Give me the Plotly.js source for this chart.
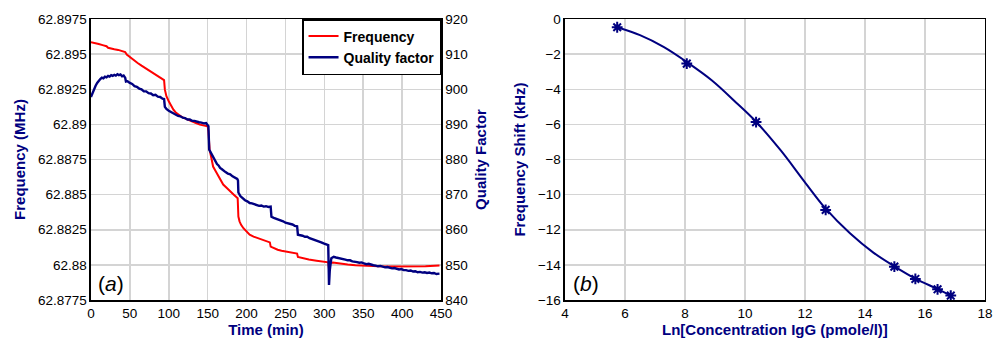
<!DOCTYPE html>
<html>
<head>
<meta charset="utf-8">
<script src="https://cdn.plot.ly/plotly-3.0.1.min.js"></script>
<style>html,body{margin:0;padding:0;background:#fff;}#chart{width:994px;height:340px;}</style>
</head>
<body>
<div id="chart"></div>
<script>
// ---- Panel (a): frequency (MHz) vs time (min)
const freqTime = [0,5,10,15,20,22,25,30,35,40,44,46,50,55,60,65,70,75,80,85,90,94,95,97,100,103,106,109,112,116,120,125,130,135,140,145,150,151,152.5,155,157,160,163,166,170,175,179,184,188.6,189.5,191,193,196,200,204,209,215,220,226,230,231,235,240,245,250,255,260,265,266,270,275,280,290,300,305,306,307,311,320,330,340,354,370,385,397,415,430,448];
const freqMHz = [62.89585,62.8958,62.89572,62.89564,62.89556,62.89545,62.8954,62.89535,62.8953,62.89523,62.89515,62.89497,62.89478,62.89458,62.89437,62.89418,62.894,62.89383,62.89365,62.89347,62.8933,62.89315,62.89247,62.892,62.89165,62.8913,62.89105,62.89085,62.89069,62.89055,62.89045,62.89035,62.89022,62.8901,62.88998,62.8899,62.88986,62.8895,62.8882,62.88755,62.887,62.8867,62.8864,62.88606,62.88572,62.88545,62.88522,62.88498,62.88475,62.88344,62.8831,62.88285,62.88261,62.88235,62.88215,62.88201,62.88188,62.88178,62.88166,62.8816,62.8813,62.88118,62.88108,62.881,62.88094,62.88088,62.88084,62.8808,62.88057,62.8805,62.88043,62.88038,62.8803,62.88022,62.88018,62.8797,62.88012,62.88016,62.88008,62.88003,62.87998,62.87993,62.8799,62.87988,62.87988,62.87989,62.87991,62.87995];

// ---- Panel (a): quality factor vs time (min)
const qTime = [0,2,4,6,8,10,12,14,16,18,20,22,24,26,28,30,32,34,36,38,40,42,44,45,47,50,53,56,59,62,65,68,71,74,77,80,83,86,89,92,94,95,97,100,103,106,109,112,115,118,121,124,127,130,133,136,139,142,145,148,150,151,152,154,156,158,160,162,164,166,168,170,173,176,179,182,185,188,189,189.5,192,195,198,201,204,207,210,213,216,219,222,225,228,231,232,235,238,241,244,247,250,253,256,259,262,265,266,269,272,275,278,281,284,287,290,293,296,299,302,305,306,307,309,312,315,318,321,324,327,330,333,336,339,342,345,348,351,354,357,360,363,366,369,372,375,378,381,384,387,390,393,396,399,402,405,408,411,414,417,420,423,426,429,432,435,438,441,444,448];
const qFactor = [897.8,899.0,900.3,901.0,901.8,902.5,902.9,903.3,903.1,903.6,903.4,903.8,903.6,904.0,903.8,904.1,903.9,904.3,904.0,904.2,903.7,903.9,903.3,902.2,902.3,901.8,901.5,900.9,900.7,900.2,900.0,899.4,899.4,898.9,898.8,898.3,898.4,897.9,897.8,897.3,897.2,895.0,894.4,893.9,893.5,893.1,892.9,892.4,892.3,891.9,891.8,891.4,891.4,891.0,891.0,890.7,890.6,890.5,890.3,890.4,889.8,889.5,882.8,882.0,880.9,880.4,879.3,878.7,878.3,877.6,877.3,876.9,876.4,876.0,875.8,875.2,874.9,874.5,874.0,870.6,869.6,868.9,868.4,868.1,867.6,867.5,867.2,867.0,866.8,866.9,866.6,866.7,866.5,866.6,863.7,863.4,863.2,862.8,862.6,862.4,862.0,861.9,861.6,861.5,861.1,861.0,858.6,858.5,858.3,858.0,858.0,857.6,857.4,857.1,856.9,856.6,856.4,856.1,855.9,855.6,844.3,848.5,851.9,852.3,852.1,852.0,851.9,851.6,851.5,851.3,851.3,851.0,851.0,850.8,850.6,850.7,850.4,850.2,850.3,850.0,849.9,849.8,849.6,849.7,849.4,849.3,849.4,849.2,849.0,849.1,848.9,848.7,848.8,848.5,848.5,848.3,848.4,848.1,848.2,847.9,848.0,847.8,847.9,847.7,847.8,847.6,847.7,847.4,847.5];

// ---- Panel (b): measured points and fitted curve
const lnConc = [5.74,8.06,10.37,12.69,14.98,15.68,16.42,16.86];
const freqShift = [-0.47,-2.54,-5.87,-10.87,-14.10,-14.80,-15.39,-15.75];
const fitX = [5.74,6.5,7.3,8.06,8.9,9.7,10.37,11.2,12.0,12.69,13.5,14.28,14.98,15.68,16.42,16.86];
const fitY = [-0.47,-0.92,-1.6,-2.45,-3.5,-4.75,-5.85,-7.5,-9.3,-10.8,-12.2,-13.3,-14.08,-14.78,-15.38,-15.75];

// ---- Tick labels
const freqTickVals = [62.8775,62.88,62.8825,62.885,62.8875,62.89,62.8925,62.895,62.8975];
const freqTickText = ['62.8775','62.88','62.8825','62.885','62.8875','62.89','62.8925','62.895','62.8975'];

const NAVY = '#000080';
const FONT = 'Liberation Sans, Arial, Helvetica, sans-serif';
const gridC = '#d4d4d4';

const traces = [
  {x: freqTime, y: freqMHz, type: 'scatter', mode: 'lines', name: 'Frequency',
   line: {color: '#ff0000', width: 2}, xaxis: 'x', yaxis: 'y'},
  {x: qTime, y: qFactor, type: 'scatter', mode: 'lines', name: 'Quality factor',
   line: {color: NAVY, width: 2.4}, xaxis: 'x', yaxis: 'y2'},
  {x: fitX, y: fitY, type: 'scatter', mode: 'lines', showlegend: false,
   line: {color: NAVY, width: 2, shape: 'spline', smoothing: 1}, xaxis: 'x2', yaxis: 'y3'},
  {x: lnConc, y: freqShift, type: 'scatter', mode: 'markers', showlegend: false,
   marker: {symbol: 'asterisk-open', size: 9, color: NAVY, line: {color: NAVY, width: 2}},
   xaxis: 'x2', yaxis: 'y3'}
];

const axBase = {
  showline: true, mirror: true, linecolor: '#000', linewidth: 1.5,
  showgrid: true, gridcolor: gridC, gridwidth: 1.5, zeroline: false, ticks: '',
  tickfont: {family: FONT, size: 13.5, color: '#000'}
};
const titleFont = {family: FONT, size: 15, color: NAVY, weight: 700};

const layout = {
  width: 994, height: 340,
  margin: {l: 0, r: 0, t: 19, b: 40},
  paper_bgcolor: '#fff', plot_bgcolor: '#fff',
  font: {family: FONT},
  showlegend: true,
  legend: {x: 0.4437, xanchor: 'right', y: 1, yanchor: 'top', bgcolor: '#fff',
           bordercolor: '#000', borderwidth: 1.5, itemwidth: 30,
           font: {family: FONT, size: 14, color: '#000', weight: 700}},
  xaxis: Object.assign({}, axBase, {domain: [0.0915, 0.4437], range: [0, 450], dtick: 50, anchor: 'y',
    title: {text: 'Time (min)', font: titleFont, standoff: 4}}),
  yaxis: Object.assign({}, axBase, {domain: [0, 1], range: [62.8775, 62.8975], anchor: 'x',
    tickmode: 'array', tickvals: freqTickVals, ticktext: freqTickText,
    title: {text: 'Frequency (MHz)', font: titleFont, standoff: 8}}),
  yaxis2: Object.assign({}, axBase, {range: [840, 920], dtick: 10, overlaying: 'y', side: 'right', anchor: 'x',
    showgrid: false, mirror: false,
    title: {text: 'Quality Factor', font: titleFont, standoff: 8}}),
  xaxis2: Object.assign({}, axBase, {domain: [0.5684, 0.9909], range: [4, 18], dtick: 2, anchor: 'y3',
    title: {text: 'Ln[Concentration IgG (pmole/l)]', font: titleFont, standoff: 4}}),
  yaxis3: Object.assign({}, axBase, {domain: [0, 1], range: [-16, 0], dtick: 2, anchor: 'x2',
    title: {text: 'Frequency Shift (kHz)', font: titleFont, standoff: 8}}),
  annotations: [
    {xref: 'x domain', yref: 'y domain', x: 0.015, y: 0.01, xanchor: 'left', yanchor: 'bottom',
     text: '(<i>a</i>)', showarrow: false, font: {family: FONT, size: 21, color: '#000'}},
    {xref: 'x2 domain', yref: 'y3 domain', x: 0.015, y: 0.01, xanchor: 'left', yanchor: 'bottom',
     text: '(<i>b</i>)', showarrow: false, font: {family: FONT, size: 21, color: '#000'}}
  ]
};

Plotly.newPlot('chart', traces, layout, {displayModeBar: false, staticPlot: true});
</script>
</body>
</html>
